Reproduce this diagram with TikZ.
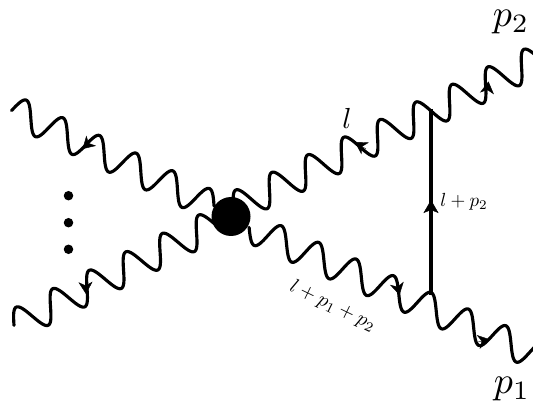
\documentclass[tikz,border=0pt]{standalone}
\usetikzlibrary{calc,arrows.meta}
\tikzset{
  wavy/.style={line width=3.15pt,line cap=round,line join=round},
  tip/.style={-{Stealth[length=12pt,width=14pt,inset=3.5pt]},line width=0.4pt},
  bigtip/.style={-{Stealth[length=13pt,width=15pt,inset=3pt]},line width=0.4pt},
  dotnode/.style={circle,fill=black,inner sep=0pt,minimum size=9.5pt},
}
\newcommand\wavepath[6]{% from, to, period, amplitude, phase, shear
  \draw[wavy] let \p1=(#1),\p2=(#2),\n1={atan2(\y2-\y1,\x2-\x1)},\n2={veclen(\x2-\x1,\y2-\y1)} in
   plot[variable=\t,domain=0:1,samples=300]
   ({\x1+\t*(\x2-\x1)-#4*sin(#5+360*\t*(\n2/#3))*(sin(\n1)+#6)},
    {\y1+\t*(\y2-\y1)+#4*sin(#5+360*\t*(\n2/#3))*cos(\n1)});
}
\begin{document}
\begin{tikzpicture}[x=1pt,y=-1pt]
\useasboundingbox (0,0) rectangle (533,403);
\coordinate (ulStart) at (12,109.3);
\coordinate (ulEnd) at (214,206.8);
\coordinate (llStart) at (14,325.4);
\coordinate (llEnd) at (215,224);
\coordinate (urStart) at (233.5,208.1);
\coordinate (urEnd) at (537.5,59.7);
\coordinate (lrStart) at (249.1,227.3);
\coordinate (lrEnd) at (533,353.7);
\coordinate (top) at (431,109);
\coordinate (bot) at (431,295);
\wavepath{ulStart}{ulEnd}{40.7pt}{15.3pt}{-5}{0.127}
\wavepath{llStart}{llEnd}{40.9pt}{15.3pt}{0}{0}
\wavepath{urStart}{urEnd}{40.07pt}{15.3pt}{0}{0}
\wavepath{lrStart}{lrEnd}{40.96pt}{15.3pt}{180}{0.127}
\draw[line width=4.4pt] (top) -- (bot);
\node[circle,fill=black,inner sep=0pt,minimum size=39pt] (vertex) at (231,216.5) {};
\node[dotnode] (d1) at (68.5,195.7) {};
\node[dotnode] (d2) at (68.5,222.7) {};
\node[dotnode] (d3) at (68.5,249.3) {};
% arrowheads
\coordinate (a1t) at (92,140); \coordinate (a1h) at (82.5,149);
\coordinate (a2t) at (85.5,282); \coordinate (a2h) at (86,294);
\coordinate (a3t) at (366,149); \coordinate (a3h) at (355,142);
\coordinate (a4t) at (487,93); \coordinate (a4h) at (488.5,81.5);
\coordinate (a5t) at (397,284); \coordinate (a5h) at (399.5,295);
\coordinate (a6t) at (478,342); \coordinate (a6h) at (490,339.5);
\coordinate (a7t) at (431,212); \coordinate (a7h) at (431,200);
\draw[tip] (a1t) -- (a1h);
\draw[tip] (a2t) -- (a2h);
\draw[tip] (a3t) -- (a3h);
\draw[tip] (a4t) -- (a4h);
\draw[tip] (a5t) -- (a5h);
\draw[tip] (a6t) -- (a6h);
\draw[bigtip] (a7t) -- (a7h);
% labels
\node[scale=3.8,inner sep=0pt] (p2) at (511,22.5) {$p_2$};
\node[scale=3.8,inner sep=0pt] (p1) at (512,389) {$p_1$};
\node[scale=2.9,inner sep=0pt] (ll) at (347,118) {$l$};
\node[scale=1.9,inner sep=0pt] (l2) at (464,202) {$l+p_2$};
\node[scale=2,inner sep=0pt,rotate=-26] (l12) at (333,306) {$l+p_1+p_2$};
\end{tikzpicture}
\end{document}
